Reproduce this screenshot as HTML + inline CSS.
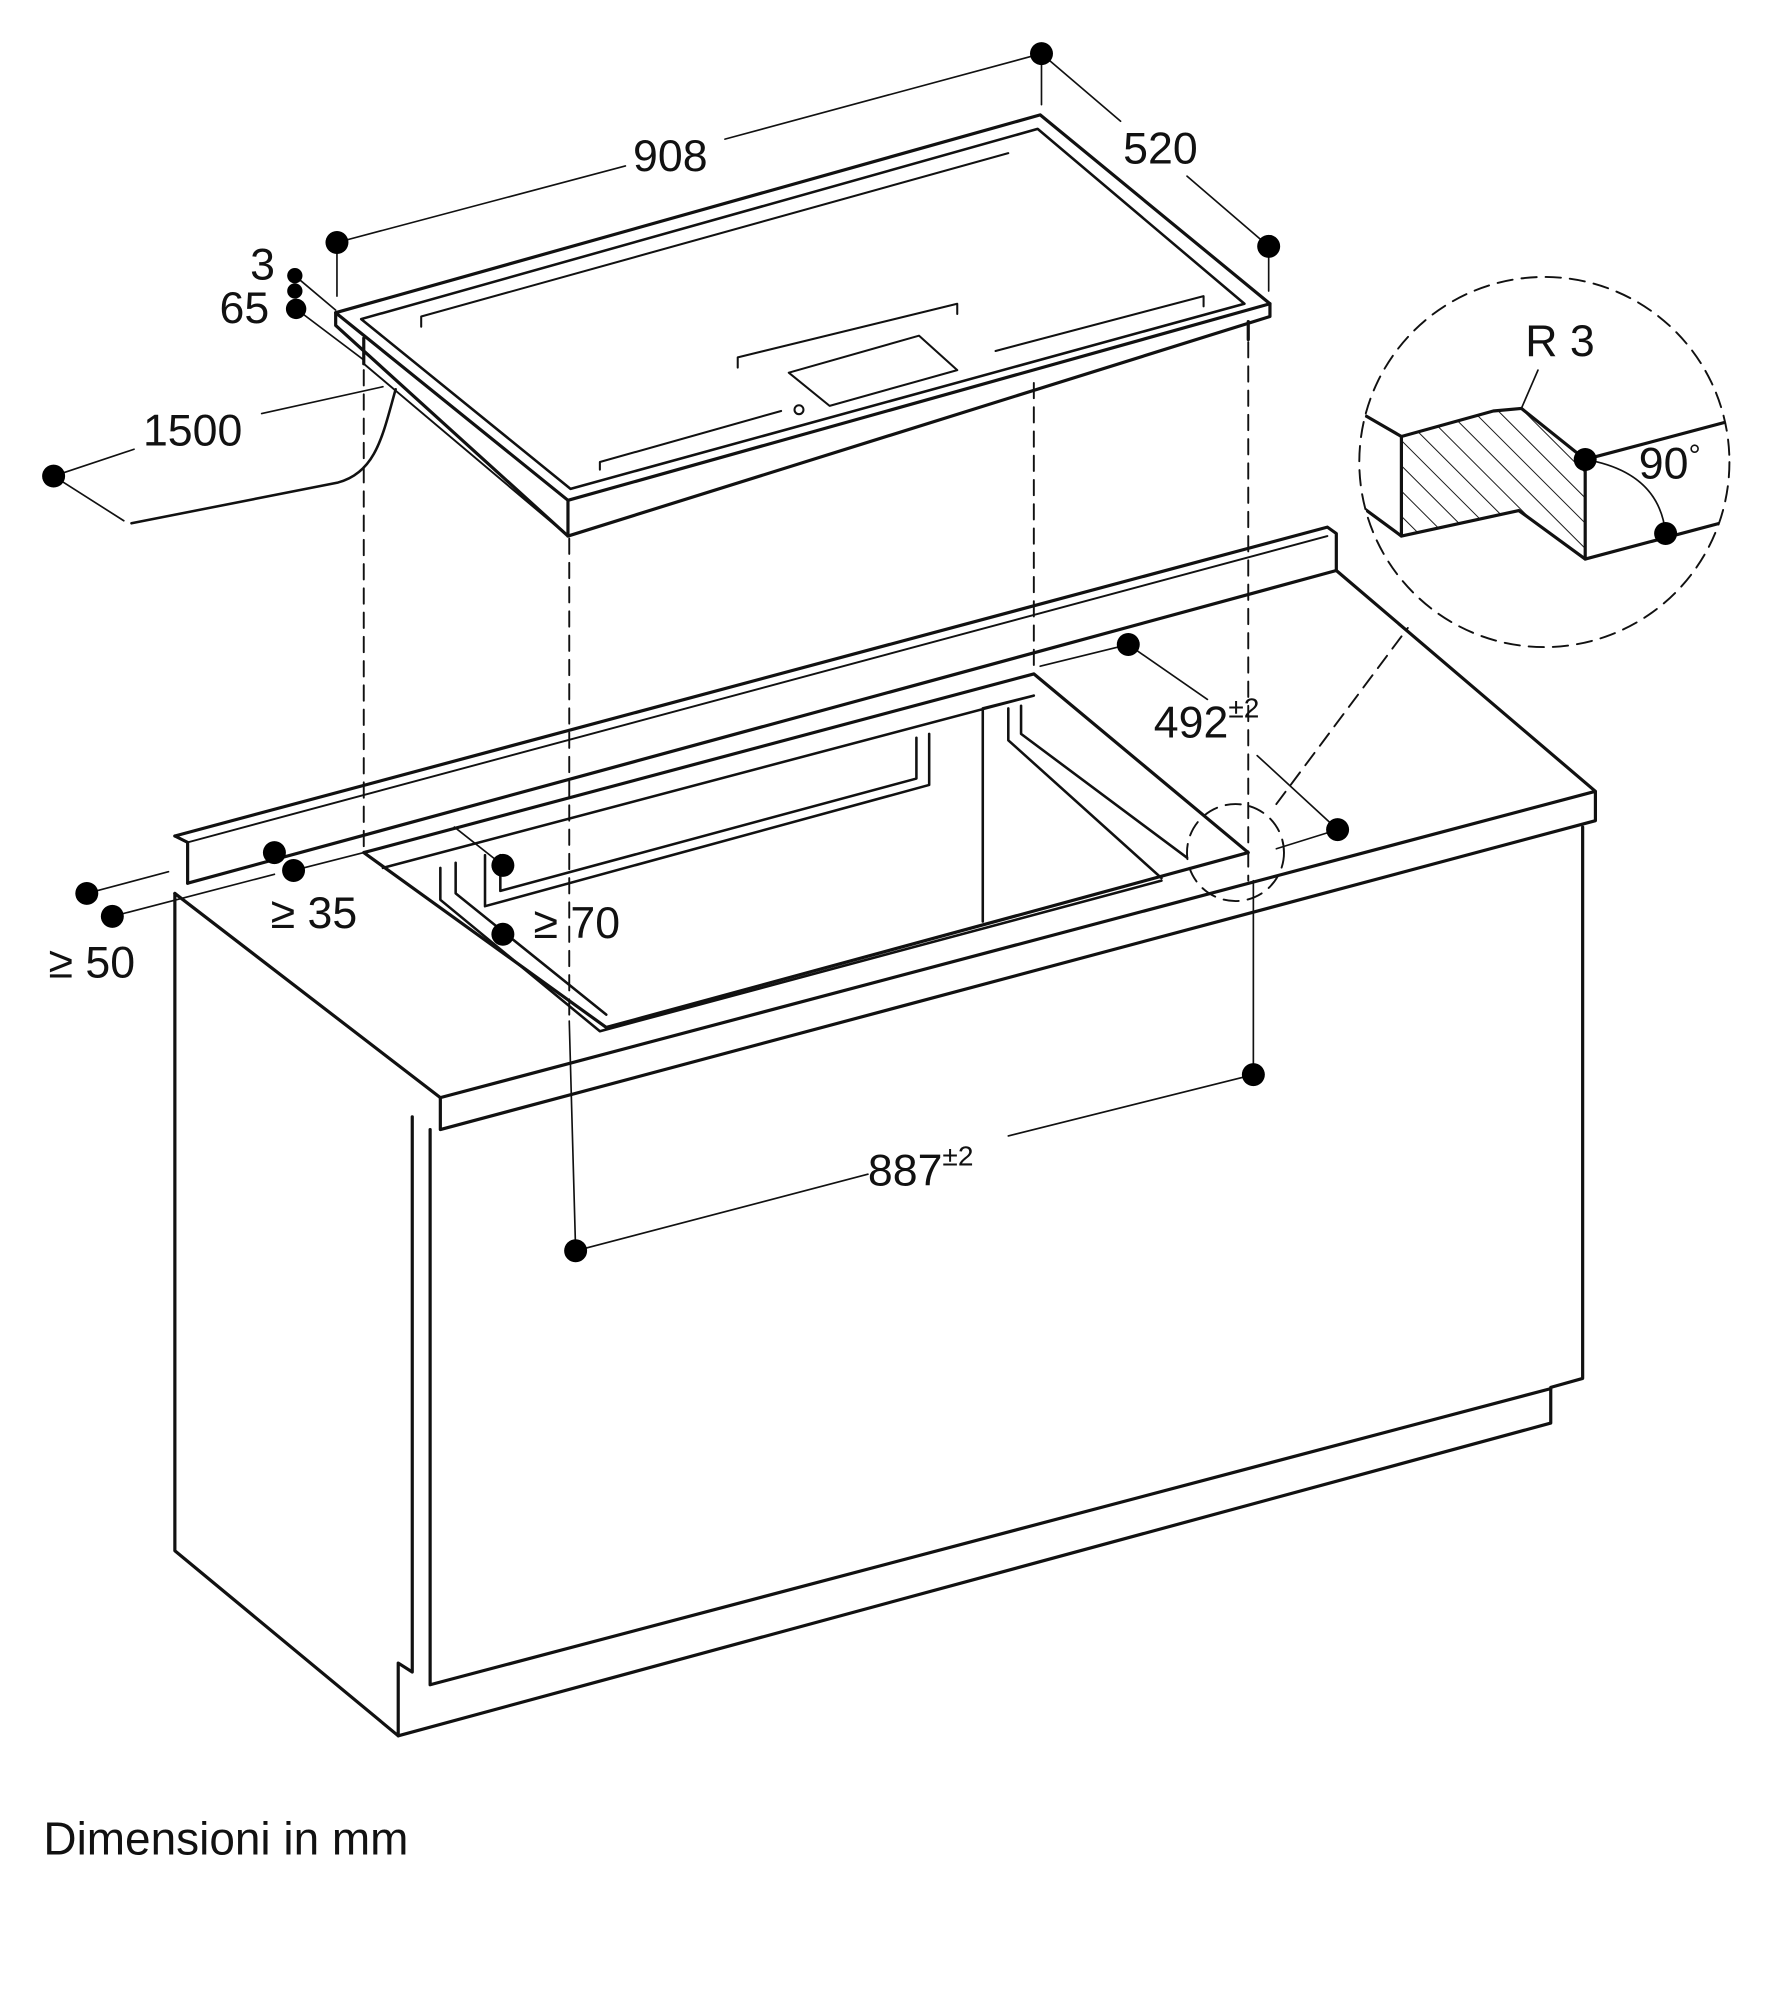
<!DOCTYPE html>
<html><head><meta charset="utf-8"><style>
html,body{margin:0;padding:0;background:#fff}
svg{display:block}
text{font-family:"Liberation Sans",sans-serif;fill:#111}
</style></head><body>
<svg width="1769" height="2000" viewBox="0 0 1386 1567" xmlns="http://www.w3.org/2000/svg">
<defs>
<pattern id="h" width="14" height="14" patternUnits="userSpaceOnUse" patternTransform="rotate(-45)">
<line x1="0" y1="0" x2="0" y2="14" stroke="#111" stroke-width="1.5"/></pattern>
<clipPath id="c"><circle cx="1210" cy="362" r="145"/></clipPath>
</defs>
<g fill="none" stroke="#111" stroke-width="2.5" stroke-linejoin="round" stroke-linecap="round">
<polygon points="263,245 815,90 995,238 445,392" fill="#fff"/>
<polyline points="263,245 263,255 445,420 995,248 995,238"/>
<polyline points="445,392 445,420"/>
<polygon points="283,250 813,101 975,238 447,383" stroke-width="2"/>
<polyline points="285,265 285,285"/>
<polyline points="978,252 978,266"/>
<polyline points="285,285 445,420" stroke-width="1.5"/>
<g stroke-width="1.6">
<polyline points="330,256 330,248 790,120"/>
<polyline points="780,275 943,232 943,240"/>
<polyline points="470,368 470,362 612,322"/>
<polyline points="578,288 578,280 750,238 750,246"/>
<polygon points="618,292 720,263 750,290 650,318"/>
<circle cx="626" cy="321" r="3.5"/>
</g>
<path d="M310,305 C300,340 295,370 265,378 L103,410" stroke-width="2"/>
<g stroke-width="1.3">
<line x1="264" y1="190" x2="490" y2="130"/><line x1="568" y1="109" x2="816" y2="42"/>
<line x1="264" y1="190" x2="264" y2="232"/><line x1="816" y1="42" x2="816" y2="82"/>
<line x1="816" y1="42" x2="878" y2="95"/><line x1="930" y1="138" x2="994" y2="193"/>
<line x1="994" y1="193" x2="994" y2="228"/>
<line x1="231" y1="216" x2="263" y2="243"/><line x1="232" y1="242" x2="285" y2="282"/>
<line x1="42" y1="373" x2="97" y2="408"/><line x1="42" y1="373" x2="105" y2="352"/><line x1="205" y1="324" x2="300" y2="303"/>
<line x1="884" y1="505" x2="946" y2="548"/><line x1="815" y1="522" x2="884" y2="505"/>
<line x1="985" y1="592" x2="1048" y2="650"/><line x1="1000" y1="665" x2="1048" y2="650"/>
<line x1="68" y1="700" x2="132" y2="683"/><line x1="88" y1="718" x2="215" y2="685"/>
<line x1="230" y1="682" x2="285" y2="668"/>
<line x1="356" y1="648" x2="394" y2="678"/>
<line x1="451" y1="980" x2="680" y2="920"/><line x1="790" y1="890" x2="982" y2="842"/>
<line x1="982" y1="690" x2="982" y2="842"/>
</g>
<g stroke-width="1.5" stroke-dasharray="12,7">
<line x1="285" y1="290" x2="285" y2="668"/>
<line x1="446" y1="422" x2="446" y2="800"/>
<line x1="810" y1="300" x2="810" y2="528"/>
<line x1="978" y1="268" x2="978" y2="690"/>
<line x1="1000" y1="630" x2="1103" y2="492"/>
<circle cx="968" cy="668" r="38"/>
<circle cx="1210" cy="362" r="145"/>
</g>
<line x1="446" y1="800" x2="451" y2="980" stroke-width="1.3"/>
<polyline points="137,655 1040,413 1047,418 1047,447"/>
<line x1="147" y1="660" x2="1040" y2="420" stroke-width="1.5"/>
<polyline points="137,655 147,660 147,692"/>
<line x1="147" y1="692" x2="1047" y2="447"/>
<polyline points="1047,447 1250,620 1250,643 345,885 345,860 1250,620"/>
<line x1="137" y1="700" x2="345" y2="860"/>
<polyline points="285,668 810,528 978,668 475,805 285,668"/>
<polyline points="300,680 810,545 770,555 770,722" stroke-width="2"/>
<polyline points="380,670 380,710 728,615 728,575" stroke-width="2"/>
<polyline points="392,670 392,698 718,610 718,578" stroke-width="2"/>
<polyline points="345,680 345,705 470,808 910,690" stroke-width="2"/>
<polyline points="357,676 357,700 475,795" stroke-width="2"/>
<polyline points="790,555 790,580 910,688" stroke-width="2"/>
<polyline points="800,553 800,575 930,672" stroke-width="2"/>
<polyline points="137,700 137,1215 312,1360 312,1303 323,1310 323,875"/>
<polyline points="337,885 337,1320 1215,1088"/>
<polyline points="1240,648 1240,1080 1215,1087 1215,1115 312,1360"/>
<g clip-path="url(#c)">
<polygon points="1098,342 1170,322 1195,322 1242,360 1242,438 1190,400 1098,420" fill="url(#h)" stroke="none"/>
<polyline points="1060,320 1098,342 1170,322 1192,320 1242,360 1242,438 1190,400 1098,420 1060,392"/>
<line x1="1098" y1="342" x2="1098" y2="420"/>
<line x1="1242" y1="360" x2="1370" y2="326"/>
<line x1="1242" y1="438" x2="1370" y2="404"/>
</g>
<line x1="1192" y1="320" x2="1205" y2="290" stroke-width="1.3"/>
<path d="M1242,360 Q1300,370 1305,418" stroke-width="1.3"/>
</g>
<g fill="#000">
<circle cx="264" cy="190" r="9"/><circle cx="816" cy="42" r="9"/><circle cx="994" cy="193" r="9"/>
<circle cx="231" cy="216" r="6"/><circle cx="231" cy="228" r="6"/><circle cx="232" cy="242" r="8"/>
<circle cx="42" cy="373" r="9"/><circle cx="884" cy="505" r="9"/><circle cx="1048" cy="650" r="9"/>
<circle cx="68" cy="700" r="9"/><circle cx="88" cy="718" r="9"/><circle cx="215" cy="668" r="9"/><circle cx="230" cy="682" r="9"/>
<circle cx="394" cy="678" r="9"/><circle cx="394" cy="732" r="9"/>
<circle cx="451" cy="980" r="9"/><circle cx="982" cy="842" r="9"/>
<circle cx="1242" cy="360" r="9"/><circle cx="1305" cy="418" r="9"/>
</g>
<g font-size="35">
<text x="496" y="134">908</text>
<text x="880" y="128">520</text>
<text x="196" y="219">3</text>
<text x="172" y="253">65</text>
<text x="112" y="349">1500</text>
<text x="904" y="578">492<tspan font-size="22" dy="-16">±2</tspan></text>
<text x="212" y="727">≥ 35</text>
<text x="38" y="766">≥ 50</text>
<text x="418" y="735">≥ 70</text>
<text x="680" y="929">887<tspan font-size="22" dy="-16">±2</tspan></text>
<text x="1195" y="279">R 3</text>
<text x="1284" y="375">90<tspan font-size="24" dy="-10">°</tspan></text>
<text x="34" y="1453" font-size="36">Dimensioni in mm</text>
</g>
</svg>
</body></html>
